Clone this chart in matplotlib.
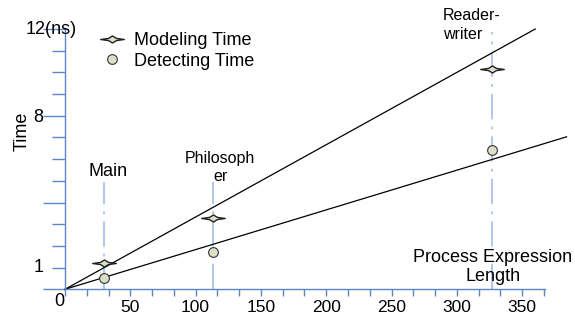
import numpy as np
import matplotlib
matplotlib.use('Agg')
import matplotlib.pyplot as plt
from matplotlib.path import Path

plt.rcParams['font.family'] = ['Liberation Sans', 'DejaVu Sans']

# data
programs = ['Main', 'Philosoph\ner', 'Reader-\nwriter']
prog_len = [30, 113.6, 327]
modeling_time = [1.2, 3.3, 10.18]
detecting_time = [0.5, 1.7, 6.43]
guide_top = [4.96, 4.96, 11.85]
trend_x_end = [360, 384]
trend_y_end = [12.0, 7.03]

axis_col = '#5b87c9'
guide_col = '#a9c4e8'
fill_col = '#dde0c8'

# diamond with long horizontal spikes
star = Path([(-3, 0), (-1.0, 0.28), (0, 0.9), (1.0, 0.28), (3, 0),
             (1.0, -0.28), (0, -0.9), (-1.0, -0.28), (-3, 0)],
            [Path.MOVETO] + [Path.LINETO] * 7 + [Path.CLOSEPOLY])

fig = plt.figure(figsize=(5.75, 3.2), dpi=100)
ax = fig.add_axes([0.11304, 0.0959, 0.83478, 0.8134])
ax.set_xlim(0, 367.5)
ax.set_ylim(0, 12)

# guide lines
for x, top in zip(prog_len, guide_top):
    ax.plot([x, x], [0, top], color=guide_col, lw=1.3,
            linestyle=(0, (14, 4, 1.5, 4)), clip_on=False, zorder=1)

# trend lines
for xe, ye in zip(trend_x_end, trend_y_end):
    ax.plot([0, xe], [0, ye], color='black', lw=0.9, clip_on=False, zorder=2)

ax.plot(prog_len, modeling_time, linestyle='none', marker=star, markersize=17,
        markerfacecolor=fill_col, markeredgecolor='#222222', markeredgewidth=1.0,
        label='Modeling Time', clip_on=False, zorder=3)
ax.plot(prog_len, detecting_time, linestyle='none', marker='o', markersize=7,
        markerfacecolor=fill_col, markeredgecolor='#333333', markeredgewidth=0.8,
        label='Detecting Time', clip_on=False, zorder=3)

# axes styling
for s in ['top', 'right']:
    ax.spines[s].set_visible(False)
for s in ['left', 'bottom']:
    ax.spines[s].set_color(axis_col)
    ax.spines[s].set_linewidth(1.0)

ax.set_xticks(np.arange(0, 351, 50))
ax.set_xticklabels([''] + [str(v) for v in range(50, 351, 50)])
ax.set_xticks(np.arange(0, 367, 50 / 3.0), minor=True)
ax.set_yticks([0, 4, 8, 12])
ax.set_yticklabels(['', '', '8', ''])
ax.set_yticks(np.arange(0, 13, 1), minor=True)
ax.tick_params(axis='x', which='major', direction='out', length=5, width=1,
               color=axis_col, labelsize=12.5, pad=3)
ax.tick_params(axis='x', which='minor', direction='out', length=5, width=1,
               color=axis_col)
ax.tick_params(axis='y', which='major', direction='out', length=15.8, width=1,
               color=axis_col, labelsize=13, pad=0)
ax.tick_params(axis='y', which='minor', direction='out', length=9.4, width=1,
               color=axis_col)

# texts
ax.text(-10.7, 12, '12(ns)', fontsize=13, ha='center', va='center', clip_on=False)
ax.text(-20, 1, '1', fontsize=13, ha='center', va='center', clip_on=False)
ax.text(-4.6, -0.58, '0', fontsize=13, ha='center', va='center', clip_on=False)
ax.text(-33, 7.29, 'Time', fontsize=13, rotation=90, ha='center', va='center',
        clip_on=False)
ax.text(32.9, 5.42, programs[0], fontsize=13, ha='center', va='center')
ax.text(118.7, 5.61, programs[1], fontsize=11.5, ha='center', va='center',
        multialignment='center', linespacing=1.25)
ax.text(289.4, 12.18, programs[2], fontsize=11.5, ha='left', va='center',
        multialignment='left', linespacing=1.3, clip_on=False)
ax.text(327.6, 1.03, 'Process Expression\nLength', fontsize=13, ha='center',
        va='center', multialignment='center', linespacing=1.2)

ax.legend(loc='upper left', bbox_to_anchor=(97.6 / 575, 1 - 32 / 320.0),
          bbox_transform=fig.transFigure, frameon=False, fontsize=13,
          handlelength=1.6, handletextpad=0.4, labelspacing=0.2, borderpad=0,
          borderaxespad=0)

fig.savefig('out.png', dpi=100)
